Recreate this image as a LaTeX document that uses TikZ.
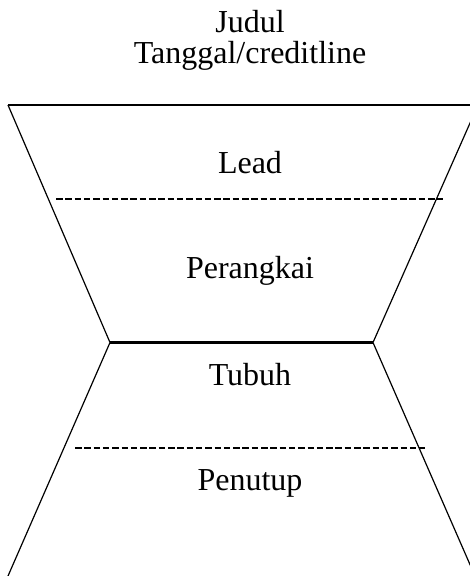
\documentclass[tikz,border=0pt]{standalone}
\usepackage{fontspec}
\setmainfont{Liberation Serif}
\begin{document}
\begin{tikzpicture}[x=1pt,y=1pt,
  lbl/.style={anchor=base,inner sep=0pt,font=\fontsize{32}{37}\selectfont},
  edge/.style={line width=1.2pt},
  divider/.style={line width=2.2pt,dash pattern=on 6.5pt off 2.8pt}]
\useasboundingbox (0,-576) rectangle (470,0);
\clip (0,-576) rectangle (470,0);
% coordinates
\coordinate (tl) at (8,-105);
\coordinate (tr) at (478,-105);
\coordinate (ml) at (110,-342.5);
\coordinate (mr) at (373,-342.5);
\coordinate (bl) at (8,-576);
\coordinate (br) at (475,-576);
\coordinate (d1a) at (56,-199);
\coordinate (d1b) at (443,-199);
\coordinate (d2a) at (75,-448);
\coordinate (d2b) at (425,-448);
% text
\node[lbl] (judul) at (250,-32) {Judul};
\node[lbl] (tgl) at (250,-63) {Tanggal/creditline};
\node[lbl] (lead) at (250,-173) {Lead};
\node[lbl] (per) at (250,-278) {Perangkai};
\node[lbl] (tub) at (250,-385) {Tubuh};
\node[lbl] (pen) at (250,-490) {Penutup};
% shapes
\draw[line width=1.6pt] (tl) -- (tr);
\draw[edge] (tl) -- (ml);
\draw[edge] (tr) -- (mr);
\draw[line width=2.2pt] (ml) -- (mr);
\draw[edge] (ml) -- (bl);
\draw[edge] (mr) -- (br);
\draw[divider] (d1a) -- (d1b);
\draw[divider] (d2a) -- (d2b);
\end{tikzpicture}
\end{document}
